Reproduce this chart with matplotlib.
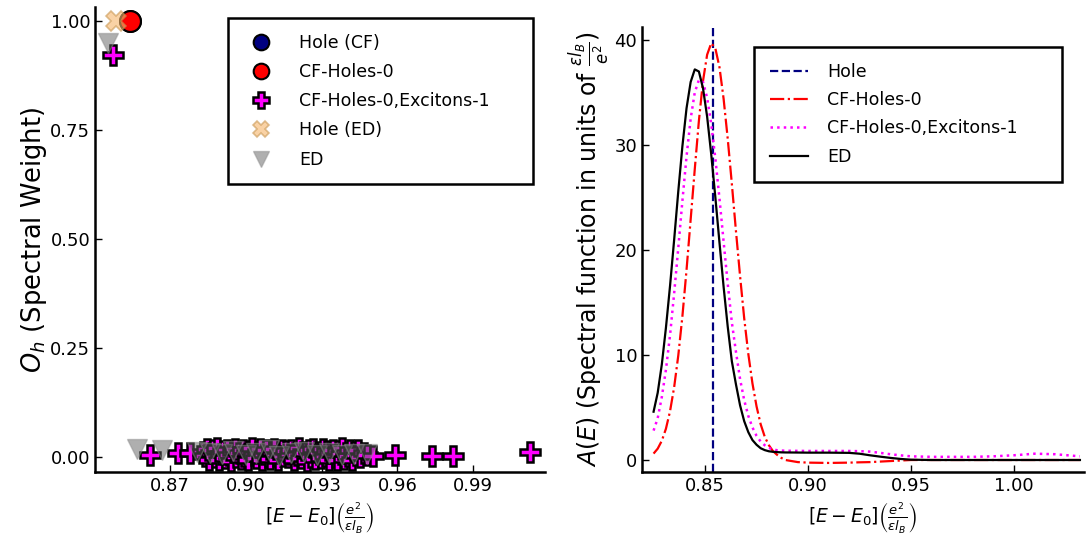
import numpy as np
import matplotlib
matplotlib.use('Agg')
import matplotlib.pyplot as plt

plt.rcParams['font.family'] = 'DejaVu Sans'
plt.rcParams['mathtext.fontset'] = 'dejavusans'

# ---- left panel: spectral weights ----
hole_cf_x = [0.8542]
hole_cf_y = [1.0]
cf0_x = [0.8542]
cf0_y = [1.0]
exc_x = [0.8474, 0.8620, 0.8732, 0.8779,
         0.8832, 0.8839, 0.8848, 0.8855, 0.8863, 0.8870, 0.8879, 0.8886, 0.8894,
         0.8901, 0.8910, 0.8917, 0.8925, 0.8932, 0.8941, 0.8948, 0.8956, 0.8963,
         0.8972, 0.8979, 0.8987, 0.8994, 0.9003, 0.9010, 0.9018, 0.9025, 0.9034,
         0.9041, 0.9049, 0.9056, 0.9065, 0.9072, 0.9080, 0.9087, 0.9096, 0.9103,
         0.9111, 0.9118, 0.9127, 0.9134, 0.9142, 0.9149, 0.9158, 0.9165, 0.9173,
         0.9180, 0.9189, 0.9196, 0.9204, 0.9211, 0.9220, 0.9227, 0.9235, 0.9242,
         0.9251, 0.9258, 0.9266, 0.9273, 0.9282, 0.9289, 0.9297, 0.9304, 0.9313,
         0.9320, 0.9328, 0.9335, 0.9344, 0.9351, 0.9359, 0.9366, 0.9375, 0.9382,
         0.9390, 0.9397, 0.9406, 0.9413, 0.9421, 0.9428, 0.9437, 0.9444, 0.9452,
         0.9466, 0.9480,
         0.9503, 0.9590, 0.9737, 0.9820, 1.0125]
exc_y = [0.922, 0.005, 0.010, 0.008,
         0.012, 0.002, 0.018, -0.006, 0.009, 0.015, 0.000, 0.020, -0.008,
         0.006, 0.013, -0.003, 0.017, 0.004, -0.009, 0.011, 0.019, 0.001,
         0.008, -0.005, 0.016, 0.003, 0.010, -0.007, 0.014, 0.020, 0.005,
         -0.002, 0.012, 0.018, -0.006, 0.007, 0.015, 0.001, -0.004, 0.011,
         0.019, 0.003, -0.008, 0.009, 0.016, 0.002, 0.013, -0.001, 0.006,
         0.017, -0.007, 0.010, 0.004, 0.020, -0.003, 0.012, 0.008, -0.009,
         0.015, 0.001, 0.018, -0.005, 0.011, 0.006, -0.002, 0.019, 0.003,
         0.014, -0.008, 0.009, 0.016, 0.000, -0.006, 0.013, 0.007, 0.020,
         -0.004, 0.010, 0.002, 0.017, -0.007, 0.012, 0.005, 0.015, -0.001,
         0.008, 0.004,
         0.003, 0.004, 0.003, 0.002, 0.011]
hole_ed_x = [0.8485]
hole_ed_y = [1.0]
ed_x = [0.8455, 0.8568, 0.8667, 0.8806, 0.8860, 0.8905, 0.8950, 0.9000, 0.9040,
        0.9090, 0.9130, 0.9180, 0.9230, 0.9280, 0.9330, 0.9380, 0.9430, 0.9480]
ed_y = [0.950, 0.018, 0.015, 0.012, 0.010, 0.006, 0.014, 0.004, 0.009,
        0.017, 0.003, 0.008, 0.012, 0.005, 0.010, 0.004, 0.007, 0.006]

# ---- right panel: spectral functions ----
E = [0.825, 0.827, 0.829, 0.831, 0.833, 0.835, 0.837, 0.839, 0.841, 0.843,
     0.845, 0.847, 0.849, 0.851, 0.853, 0.855, 0.857, 0.859, 0.861, 0.863,
     0.865, 0.867, 0.869, 0.871, 0.873, 0.875, 0.877, 0.879, 0.881, 0.883,
     0.885, 0.887, 0.889, 0.895, 0.900, 0.910, 0.920, 0.925, 0.930, 0.935,
     0.940, 0.945, 0.950, 0.960, 0.970, 0.980, 0.990, 1.000, 1.010, 1.020, 1.032]
A_cf0 = [0.61, 1.08, 1.83, 2.98, 4.65, 6.95, 9.96, 13.7, 18.1, 22.9,
         27.7, 32.3, 36.1, 38.6, 39.7, 39.2, 37.4, 34.4, 30.6, 26.3,
         21.8, 17.5, 13.5, 10.1, 7.3, 5.1, 3.4, 2.2, 1.4, 0.84,
         0.49, 0.2, 0.0, -0.2, -0.25, -0.28, -0.25, -0.22, -0.2, -0.15,
         -0.1, -0.05, 0.0, 0.0, 0.0, 0.0, 0.0, 0.0, 0.0, 0.0, 0.0]
A_exc = [2.8, 3.98, 6.0, 8.6, 11.9, 15.9, 20.2, 24.7, 28.9, 32.5,
         35.0, 36.2, 36.0, 34.5, 32.0, 28.7, 24.9, 20.8, 16.8, 13.1,
         10.3, 7.7, 5.7, 4.2, 3.1, 2.3, 1.75, 1.4, 1.15, 1.0,
         0.93, 0.9, 0.88, 0.87, 0.86, 0.86, 0.86, 0.84, 0.8, 0.68,
         0.55, 0.44, 0.35, 0.3, 0.3, 0.3, 0.35, 0.45, 0.6, 0.55, 0.35]
A_ed = [4.6, 6.4, 9.1, 12.6, 16.6, 21.0, 25.6, 29.9, 33.5, 36.0,
        37.2, 37.0, 35.4, 32.7, 29.1, 25.0, 20.7, 16.5, 12.7, 9.4,
        7.2, 5.2, 3.7, 2.65, 1.9, 1.45, 1.12, 0.94, 0.83, 0.78,
        0.75, 0.73, 0.72, 0.71, 0.7, 0.7, 0.68, 0.6, 0.45, 0.32,
        0.2, 0.1, 0.03, 0.0, 0.0, 0.0, 0.0, 0.0, 0.0, 0.0, 0.0]
E_hole = 0.854

fig = plt.figure(figsize=(10.86, 5.44), dpi=100)
ax1 = fig.add_axes([0.0875, 0.1324, 0.4143, 0.8547])
ax2 = fig.add_axes([0.5912, 0.1324, 0.4070, 0.8180])

ms = 15
ax1.plot(hole_cf_x, hole_cf_y, 'o', ms=ms, color='navy', mec='black', mew=1.5, label='Hole (CF)')
ax1.plot(cf0_x, cf0_y, 'o', ms=ms, color='red', mec='black', mew=1.5, label='CF-Holes-0')
ax1.plot(exc_x, exc_y, 'P', ms=ms, color='magenta', mec='black', mew=1.8, ls='none',
         label='CF-Holes-0,Excitons-1')
ax1.plot(hole_ed_x, hole_ed_y, 'X', ms=ms, color='#f5b56a', alpha=0.6, mec='#c89650', mew=1.2,
         label='Hole (ED)')
ax1.plot(ed_x, ed_y, 'v', ms=ms, color='#606060', alpha=0.5, mec='#909090', mew=1.0, ls='none',
         label='ED')

ax1.set_xlim(0.8403, 1.0184)
ax1.set_ylim(-0.0344, 1.032)
ax1.set_xticks([0.87, 0.90, 0.93, 0.96, 0.99])
ax1.set_xticklabels(['0.87', '0.90', '0.93', '0.96', '0.99'])
ax1.set_yticks([0, 0.25, 0.5, 0.75, 1.0])
ax1.set_yticklabels(['0.00', '0.25', '0.50', '0.75', '1.00'])
ax1.set_xlabel(r'$[E - E_0]\left(\frac{e^2}{\varepsilon l_B}\right)$', fontsize=13.5)
ax1.set_ylabel(r'$O_h$ (Spectral Weight)', fontsize=18.5, labelpad=1)

ax2.axvline(E_hole, color='navy', ls='--', lw=1.6, label='Hole')
ax2.plot(E, A_cf0, color='red', ls='-.', lw=1.6, label='CF-Holes-0')
ax2.plot(E, A_exc, color='magenta', ls=':', lw=1.8, label='CF-Holes-0,Excitons-1')
ax2.plot(E, A_ed, color='black', ls='-', lw=1.6, label='ED')
ax2.set_xlim(0.8194, 1.034)
ax2.set_ylim(-1.14, 41.24)
ax2.set_xticks([0.85, 0.90, 0.95, 1.00])
ax2.set_xticklabels(['0.85', '0.90', '0.95', '1.00'])
ax2.set_yticks([0, 10, 20, 30, 40])
ax2.set_xlabel(r'$[E - E_0]\left(\frac{e^2}{\varepsilon l_B}\right)$', fontsize=13.5)
ax2.set_ylabel(r'$A(E)$ (Spectral function in units of $\frac{\varepsilon l_B}{e^2}$)',
               fontsize=17, labelpad=2)

for ax in (ax1, ax2):
    ax.spines['top'].set_visible(False)
    ax.spines['right'].set_visible(False)
    ax.spines['left'].set_linewidth(1.8)
    ax.spines['bottom'].set_linewidth(1.8)
    ax.tick_params(direction='in', length=5, width=1, labelsize=13)

leg1 = ax1.legend(loc='upper left', mode='expand',
                  bbox_to_anchor=(228 / 1086, 1 - 186 / 544, 305 / 1086, 168 / 544),
                  bbox_transform=fig.transFigure, fontsize=12.5, fancybox=False,
                  edgecolor='black', borderaxespad=0, markerscale=0.75,
                  borderpad=0.9, labelspacing=0.65, handletextpad=1.2, framealpha=1)
leg1.get_frame().set_linewidth(1.8)
leg2 = ax2.legend(loc='upper left', mode='expand',
                  bbox_to_anchor=(754 / 1086, 1 - 188 / 544, 308 / 1086, 141 / 544),
                  bbox_transform=fig.transFigure, fontsize=12.5, fancybox=False,
                  edgecolor='black', borderaxespad=0, handlelength=2.2,
                  borderpad=0.9, labelspacing=0.6, handletextpad=1.1, framealpha=1)
leg2.get_frame().set_linewidth(1.8)

plt.savefig('out.png', dpi=100)
